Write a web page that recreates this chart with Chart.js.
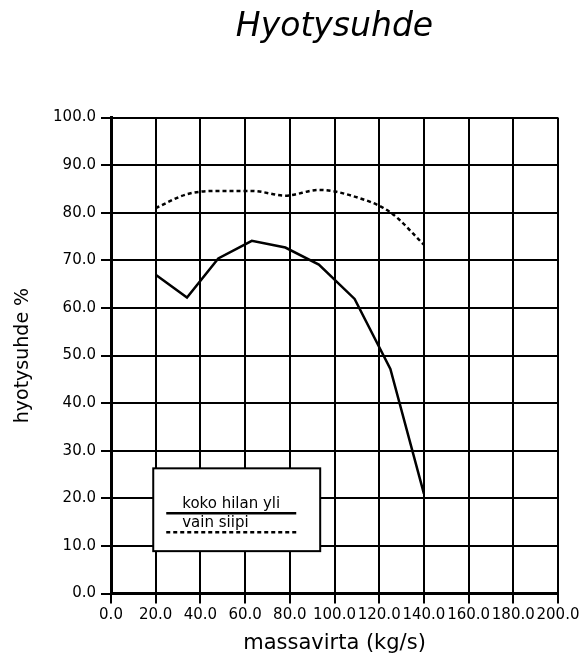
<!DOCTYPE html>
<html>
<head>
<meta charset="utf-8">
<script src="https://cdn.jsdelivr.net/npm/chart.js@4/dist/chart.umd.min.js"></script>
<style>
body { margin: 0; background: #fff; }
</style>
</head>
<body>
<canvas id="canvas" width="583" height="656"></canvas>
<script>
// massavirta (kg/s) vs hyotysuhde %
var massavirta = [20, 34, 48, 63, 78, 93, 109, 125, 140];
var kokoHilanYli = [67.0, 62.2, 70.4, 74.1, 72.7, 69.1, 61.9, 47.2, 21.0];
var vainSiipi = [81.0, 83.9, 84.6, 84.6, 83.6, 84.8, 83.4, 80.1, 73.3];
var seriesLabels = ['koko hilan yli', 'vain siipi'];
var xTicks = [0, 20, 40, 60, 80, 100, 120, 140, 160, 180, 200];
var yTicks = [0, 10, 20, 30, 40, 50, 60, 70, 80, 90, 100];

function points(xs, ys) {
	var out = [];
	for (var i in xs) {
		out.push({x: xs[i], y: ys[i]});
	}
	return out;
}

// legend drawn as a framed box inside the plot, like the original
var legendBox = {
	id: 'legendBox',
	afterDatasetsDraw: function(chart) {
		var ctx = chart.ctx;
		var x = chart.scales.x, y = chart.scales.y;
		var left = x.getPixelForValue(18.9), right = x.getPixelForValue(93.6);
		var top = y.getPixelForValue(26.3), bottom = y.getPixelForValue(8.9);
		ctx.save();
		ctx.fillStyle = '#fff';
		ctx.fillRect(left, top, right - left, bottom - top);
		ctx.lineWidth = 2;
		ctx.strokeStyle = '#000';
		ctx.strokeRect(left, top, right - left, bottom - top);
		ctx.font = '15px "DejaVu Sans"';
		ctx.textBaseline = 'alphabetic';
		chart.data.datasets.forEach(function(ds, i) {
			var base = top + 40 + i * 19;
			ctx.fillStyle = '#000';
			ctx.fillText(ds.label, left + 29, base);
			ctx.lineWidth = ds.borderWidth;
			ctx.setLineDash(ds.borderDash || []);
			ctx.beginPath();
			ctx.moveTo(left + 13, base + 5);
			ctx.lineTo(left + 143, base + 5);
			ctx.stroke();
		});
		ctx.restore();
	}
};

var graph = {
	datasets: [
		{
			label: seriesLabels[0],
			data: points(massavirta, kokoHilanYli),
			borderColor: '#000',
			borderWidth: 2.5,
			pointRadius: 0,
			tension: 0
		},
		{
			label: seriesLabels[1],
			data: points(massavirta, vainSiipi),
			borderColor: '#000',
			borderWidth: 2.5,
			borderDash: [4, 3],
			pointRadius: 0,
			cubicInterpolationMode: 'monotone'
		}
	]
};

var c = document.getElementById('canvas');
var line = new Chart(c, {
	type: 'line',
	data: graph,
	plugins: [legendBox],
	options: {
		responsive: false,
		animation: false,
		layout: { padding: { left: 0, right: 25, top: 0, bottom: 0 } },
		plugins: {
			legend: { display: false },
			tooltip: { enabled: false },
			title: {
				display: true,
				fullSize: false,
				text: 'Hyotysuhde',
				color: '#000',
				font: { family: '"DejaVu Sans"', size: 33, style: 'italic', weight: 200 },
				padding: { top: 8, bottom: 70 }
			}
		},
		scales: {
			x: {
				type: 'linear',
				min: 0,
				max: 200,
				afterBuildTicks: function(scale) {
					scale.ticks = xTicks.map(function(v) { return {value: v}; });
				},
				afterFit: function(scale) { scale.height = 62.5; },
				ticks: {
					color: '#000',
					padding: 3,
					maxRotation: 0,
					autoSkip: false,
					font: { family: '"DejaVu Sans"', size: 15 },
					callback: function(v) { return v.toFixed(1); }
				},
				grid: { color: '#000', lineWidth: 2, tickLength: 10 },
				border: { color: '#000', width: 3 },
				title: {
					display: true,
					text: 'massavirta (kg/s)',
					color: '#000',
					font: { family: '"DejaVu Sans"', size: 21 },
					padding: 0
				}
			},
			y: {
				min: 0,
				max: 100,
				afterBuildTicks: function(scale) {
					scale.ticks = yTicks.map(function(v) { return {value: v}; });
				},
				afterFit: function(scale) { scale.width = 111; },
				ticks: {
					color: '#000',
					padding: 5,
					font: { family: '"DejaVu Sans"', size: 15 },
					callback: function(v) { return v.toFixed(1); }
				},
				grid: { color: '#000', lineWidth: 2, tickLength: 10 },
				border: { color: '#000', width: 3 },
				title: {
					display: true,
					text: 'hyotysuhde %',
					color: '#000',
					font: { family: '"DejaVu Sans"', size: 19 },
					padding: { top: 12, bottom: 0 }
				}
			}
		}
	}
});
</script>
</body>
</html>
